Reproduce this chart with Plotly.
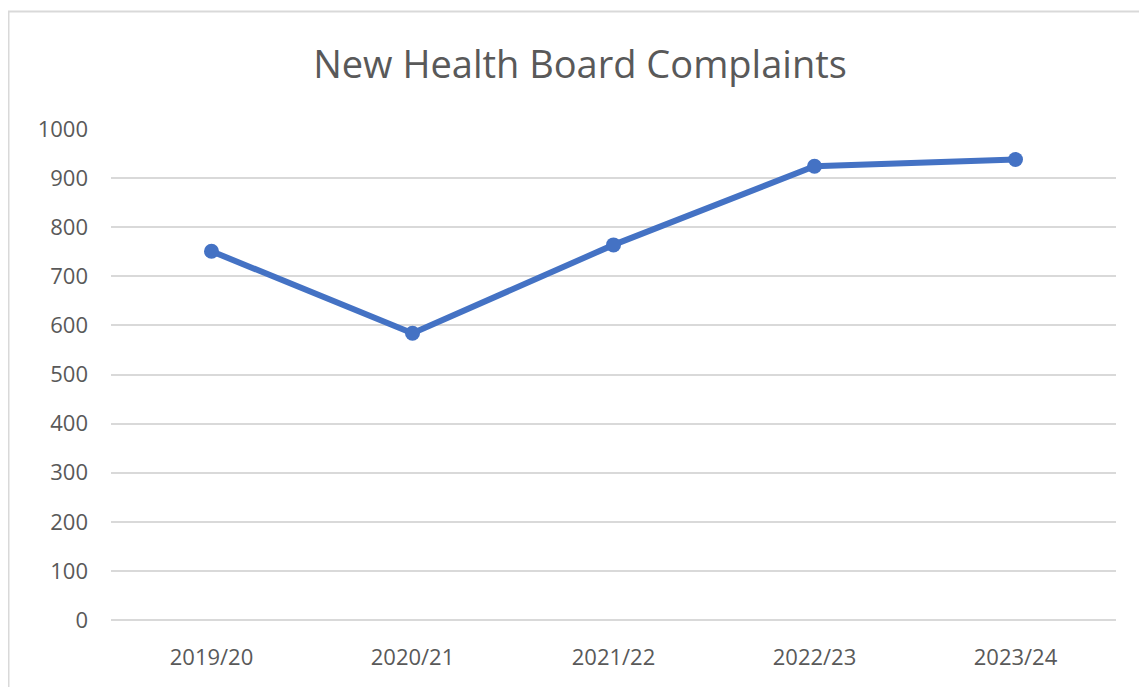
import plotly.graph_objects as go

categories = ["2019/20", "2020/21", "2021/22", "2022/23", "2023/24"]
complaints = [751, 584, 764, 924, 938]
y_ticks = [0, 100, 200, 300, 400, 500, 600, 700, 800, 900, 1000]

W, H = 1147, 687
OFF = 8  # page body margin offset
L, R, T, B = 111 - OFF, W - (1116 - OFF), 129 - OFF, H - (620 - OFF)

fig = go.Figure()
fig.add_trace(go.Scatter(
    x=categories, y=complaints, mode="lines+markers",
    line=dict(color="#4472C4", width=6),
    marker=dict(color="#4472C4", size=15),
    hoverinfo="x+y",
))

fig.update_layout(
    width=W, height=H,
    margin=dict(l=L, r=R, t=T, b=B, pad=0),
    paper_bgcolor="white", plot_bgcolor="white",
    showlegend=False,
    title=dict(text="New Health Board Complaints", x=(580 - OFF) / W, xanchor="center",
               y=1 - (65 - OFF) / H, yanchor="middle",
               font=dict(family="Open Sans", size=38, color="#595959")),
    font=dict(family="Open Sans", color="#595959"),
    xaxis=dict(showgrid=False, showline=False, ticks="", zeroline=False,
               range=[-0.5, 4.5],
               tickfont=dict(size=22, color="#595959"), ticklabelstandoff=22),
    yaxis=dict(range=[0, 1000], tickvals=y_ticks, showgrid=True,
               gridcolor="#D9D9D9", gridwidth=2, zeroline=True,
               zerolinecolor="#D9D9D9", zerolinewidth=2, showline=False,
               ticks="", tickfont=dict(size=22, color="#595959"),
               ticklabelstandoff=22),
)

# outer chart border
pw, ph = W - L - R, H - T - B
fig.add_shape(type="rect", xref="paper", yref="paper",
              x0=(0.5 - L) / pw, x1=(1140 - OFF - L) / pw,
              y0=(H - B - 720) / ph, y1=(H - B - (11 - OFF) - 0.5) / ph,
              line=dict(color="#D9D9D9", width=2), layer="below")

fig.write_html("out.html")
